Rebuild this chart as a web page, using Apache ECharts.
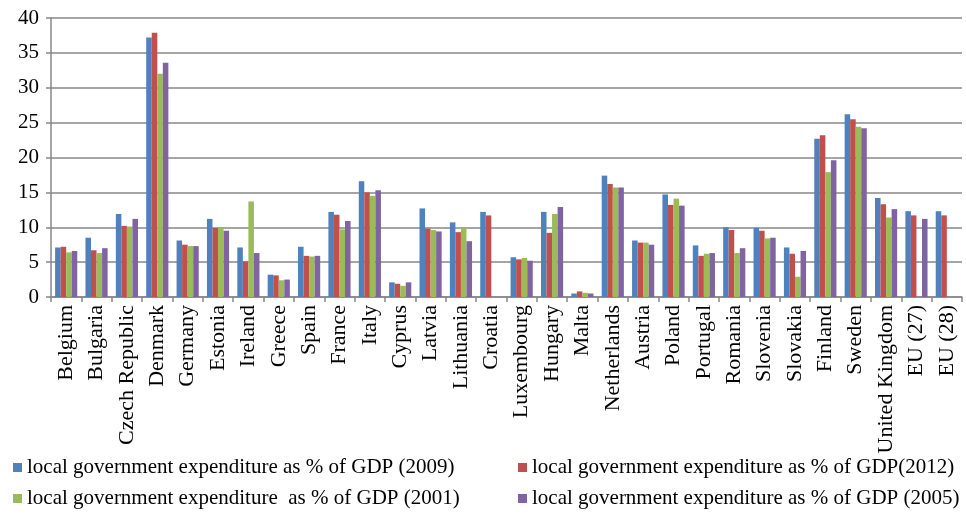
<!DOCTYPE html>
<html><head><meta charset="utf-8">
<script src="https://cdn.jsdelivr.net/npm/echarts@6/dist/echarts.min.js"></script>
<style>html,body{margin:0;padding:0;background:#fff}#c{width:966px;height:515px}</style>
</head><body><div id="c"></div>
<script>
const categories = ["Belgium","Bulgaria","Czech Republic","Denmark","Germany","Estonia","Ireland","Greece","Spain","France","Italy","Cyprus","Latvia","Lithuania","Croatia","Luxembourg","Hungary","Malta","Netherlands","Austria","Poland","Portugal","Romania","Slovenia","Slovakia","Finland","Sweden","United Kingdom","EU (27)","EU (28)"];
const y2009 = [7.1,8.5,11.9,37.2,8.1,11.2,7.1,3.2,7.2,12.2,16.6,2.1,12.7,10.7,12.2,5.7,12.2,0.5,17.4,8.1,14.7,7.4,10.0,9.9,7.1,22.7,26.2,14.2,12.3,12.3];
const y2012 = [7.2,6.7,10.2,37.9,7.5,9.9,5.1,3.1,5.9,11.8,15.0,1.9,9.8,9.3,11.7,5.4,9.2,0.8,16.2,7.8,13.2,5.9,9.6,9.5,6.2,23.2,25.5,13.3,11.7,11.7];
const y2001 = [6.4,6.3,10.1,32.0,7.3,9.9,13.7,2.4,5.8,9.7,14.5,1.6,9.6,9.9,null,5.6,11.9,0.6,15.7,7.8,14.1,6.2,6.3,8.4,2.9,17.9,24.4,11.4,null,null];
const y2005 = [6.6,7.0,11.2,33.6,7.3,9.5,6.3,2.5,5.9,10.9,15.3,2.1,9.4,8.0,null,5.2,12.9,0.5,15.7,7.5,13.1,6.3,7.0,8.5,6.6,19.6,24.2,12.6,11.2,null];
const names = ["local government expenditure as % of GDP (2009)","local government expenditure as % of GDP(2012)","local government expenditure  as % of GDP (2001)","local government expenditure as % of GDP (2005)"];
const yTicks = [0,5,10,15,20,25,30,35,40];

const colors = ['#4F81BD','#C0504D','#9BBB59','#8064A2'];
const font = '"Liberation Serif","Times New Roman",serif';
const chart = echarts.init(document.getElementById('c'));
const dataSets = [y2009,y2012,y2001,y2005];
const legPos = [[13,457],[518,457],[13,488],[518,488]];
chart.setOption({
  animation:false,
  color:colors,
  grid:{left:51,right:4,top:18,bottom:218,containLabel:false},
  legend:names.map((n,i)=>({data:[n],left:legPos[i][0],top:legPos[i][1],itemWidth:9,itemHeight:9,icon:'rect',
     itemGap:0,padding:[0,0,0,0],textStyle:{fontFamily:font,fontSize:21,color:'#000'}})),
  xAxis:{type:'category',data:categories,
    axisLine:{lineStyle:{color:'#878787',width:1.5}},
    axisTick:{show:true,length:5,lineStyle:{color:'#878787',width:1.5}},
    axisLabel:{rotate:90,interval:0,fontFamily:font,fontSize:22,color:'#000',margin:8}},
  yAxis:{type:'value',min:0,max:40,interval:5,
    axisLine:{show:true,lineStyle:{color:'#878787',width:1.5}},
    axisTick:{show:true,length:5,lineStyle:{color:'#878787',width:1.5}},
    splitLine:{lineStyle:{color:'#878787',width:1.5}},
    axisLabel:{fontFamily:font,fontSize:21,color:'#000',margin:12,
      formatter:v=>yTicks.includes(v)?String(v):''}},
  series:dataSets.map((d,i)=>({name:names[i],type:'bar',data:d,barGap:'0%',barCategoryGap:'27%'}))
});
</script></body></html>
